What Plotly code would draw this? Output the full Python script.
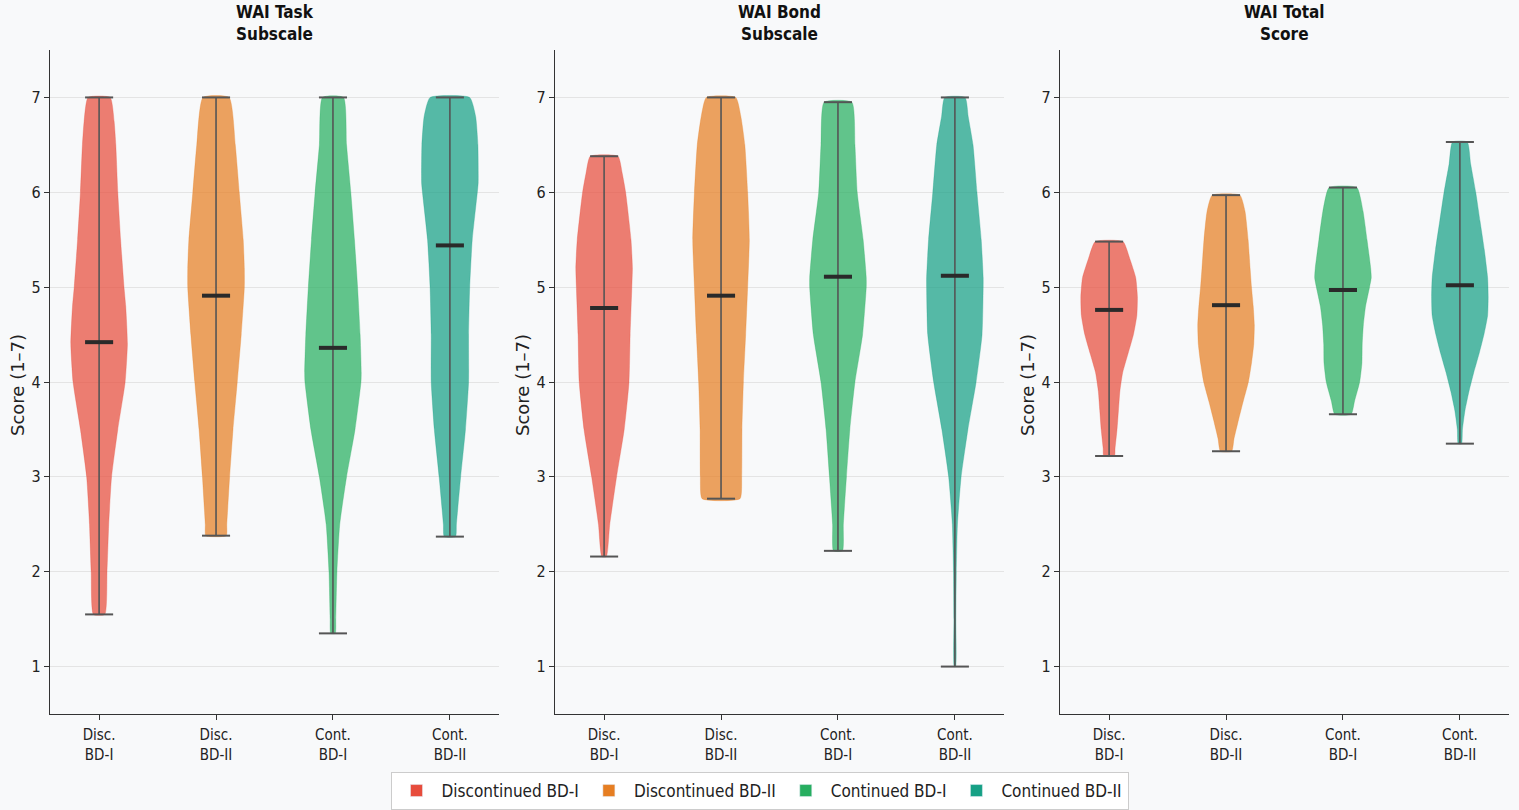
import numpy as np
import plotly.graph_objects as go
from plotly.subplots import make_subplots

# ---------------- data ----------------
GROUPS = ["Discontinued BD-I", "Discontinued BD-II", "Continued BD-I", "Continued BD-II"]
TICK_LABELS = ["Disc.<br>BD-I", "Disc.<br>BD-II", "Cont.<br>BD-I", "Cont.<br>BD-II"]
COLORS = ["#e74c3c", "#e67e22", "#27ae60", "#16a085"]
PANEL_TITLES = ["WAI Task<br>Subscale", "WAI Bond<br>Subscale", "WAI Total<br>Score"]
Y_TICKS = [1, 2, 3, 4, 5, 6, 7]

# density profiles (score level -> relative density, 1 = widest)
TASK_Y = [
    [1.55, 2.0, 2.5, 3.0, 3.5, 4.0, 4.4, 4.8, 5.0, 5.5, 6.0, 6.5, 6.75, 7.0],
    [2.38, 2.5, 3.0, 3.5, 4.0, 4.5, 5.0, 5.2, 5.5, 6.0, 6.5, 7.0],
    [1.35, 1.5, 2.0, 2.5, 3.0, 3.5, 4.0, 4.1, 4.5, 5.0, 5.5, 6.0, 6.5, 7.0],
    [2.37, 2.5, 3.0, 3.5, 4.0, 4.5, 5.0, 5.5, 6.0, 6.1, 6.5, 6.8, 7.0],
]
TASK_DENS = [
    [0.20, 0.28, 0.34, 0.44, 0.66, 0.92, 1.0, 0.94, 0.88, 0.76, 0.66, 0.59, 0.53, 0.39],
    [0.36, 0.38, 0.48, 0.60, 0.75, 0.89, 1.0, 1.0, 0.96, 0.82, 0.68, 0.46],
    [0.08, 0.10, 0.14, 0.24, 0.48, 0.78, 0.99, 1.0, 0.96, 0.87, 0.76, 0.63, 0.48, 0.37],
    [0.20, 0.23, 0.38, 0.55, 0.66, 0.66, 0.70, 0.79, 0.97, 1.0, 0.99, 0.91, 0.70],
]
TASK_MEAN = [4.42, 4.91, 4.36, 5.44]

BOND_Y = [
    [2.16, 2.5, 3.0, 3.5, 4.0, 4.5, 5.0, 5.2, 5.5, 6.0, 6.2, 6.38],
    [2.77, 3.0, 3.5, 4.0, 4.5, 5.0, 5.5, 6.0, 6.5, 6.8, 7.0],
    [2.22, 2.5, 3.0, 3.5, 4.0, 4.5, 5.0, 5.1, 5.5, 6.0, 6.5, 6.95],
    [1.0, 1.5, 2.0, 2.5, 3.0, 3.5, 4.0, 4.5, 5.0, 5.1, 5.5, 6.0, 6.5, 6.8, 7.0],
]
BOND_DENS = [
    [0.08, 0.20, 0.44, 0.71, 0.88, 0.92, 0.98, 1.0, 0.95, 0.76, 0.64, 0.49],
    [0.67, 0.73, 0.74, 0.79, 0.87, 0.94, 1.0, 0.94, 0.84, 0.70, 0.52],
    [0.16, 0.19, 0.30, 0.42, 0.60, 0.87, 1.0, 1.0, 0.89, 0.68, 0.60, 0.49],
    [0.025, 0.035, 0.05, 0.09, 0.22, 0.46, 0.75, 0.96, 1.0, 1.0, 0.93, 0.78, 0.64, 0.47, 0.36],
]
BOND_MEAN = [4.78, 4.91, 5.11, 5.12]

TOTAL_Y = [
    [3.22, 3.3, 3.5, 3.7, 3.9, 4.1, 4.3, 4.5, 4.7, 4.9, 5.1, 5.3, 5.48],
    [3.27, 3.4, 3.6, 3.8, 4.0, 4.2, 4.4, 4.6, 4.8, 5.0, 5.2, 5.5, 5.8, 5.97],
    [3.66, 3.8, 4.0, 4.2, 4.4, 4.6, 4.8, 5.0, 5.1, 5.2, 5.5, 5.8, 6.05],
    [3.35, 3.5, 3.7, 3.9, 4.1, 4.3, 4.5, 4.7, 4.9, 5.1, 5.4, 5.7, 6.0, 6.3, 6.53],
]
TOTAL_DENS = [
    [0.19, 0.21, 0.28, 0.33, 0.38, 0.48, 0.67, 0.86, 0.98, 1.0, 0.94, 0.73, 0.49],
    [0.20, 0.28, 0.44, 0.61, 0.79, 0.90, 0.98, 1.0, 0.96, 0.90, 0.85, 0.78, 0.67, 0.49],
    [0.29, 0.41, 0.59, 0.67, 0.68, 0.72, 0.80, 0.94, 1.0, 0.98, 0.85, 0.71, 0.49],
    [0.06, 0.09, 0.18, 0.32, 0.49, 0.68, 0.85, 0.98, 1.0, 0.98, 0.86, 0.71, 0.56, 0.38, 0.26],
]
TOTAL_MEAN = [4.76, 4.81, 4.97, 5.02]

PANELS = [(TASK_Y, TASK_DENS, TASK_MEAN), (BOND_Y, BOND_DENS, BOND_MEAN), (TOTAL_Y, TOTAL_DENS, TOTAL_MEAN)]

# ---------------- style ----------------
HALF = 0.242   # max half-width of a violin (x units)
CAP = 0.12     # half-length of extrema / mean bars
ALPHA = 0.72
BG = "#f8f9fa"
FONT = "DejaVu Sans Condensed, DejaVu Sans, sans-serif"
FONT_N = "DejaVu Sans, sans-serif"


def rgba(hex_color, a):
    h = hex_color.lstrip("#")
    r, g, b = int(h[0:2], 16), int(h[2:4], 16), int(h[4:6], 16)
    return f"rgba({r},{g},{b},{a})"


fig = make_subplots(rows=1, cols=3)

for p, (ys, ds, means) in enumerate(PANELS):
    for g in range(4):
        pos = g + 1
        y = np.array(ys[g], dtype=float)
        d = np.array(ds[g], dtype=float) * HALF
        xs = np.concatenate([pos + d, (pos - d)[::-1], [pos + d[0]]])
        yy = np.concatenate([y, y[::-1], [y[0]]])
        fig.add_trace(go.Scatter(
            x=xs, y=yy, mode="lines", fill="toself",
            fillcolor=rgba(COLORS[g], ALPHA),
            line=dict(color=rgba(COLORS[g], 0.5), width=0.6, shape="spline", smoothing=0.5),
            hoverinfo="skip", showlegend=False), row=1, col=p + 1)
        lo, hi = y[0], y[-1]
        fig.add_trace(go.Scatter(
            x=[pos, pos], y=[lo, hi], mode="lines",
            line=dict(color="#555555", width=1.6),
            hoverinfo="skip", showlegend=False), row=1, col=p + 1)
        fig.add_trace(go.Scatter(
            x=[pos - CAP, pos + CAP, None, pos - CAP, pos + CAP],
            y=[lo, lo, None, hi, hi], mode="lines",
            line=dict(color="#555555", width=2),
            hoverinfo="skip", showlegend=False), row=1, col=p + 1)
        fig.add_trace(go.Scatter(
            x=[pos - CAP, pos + CAP], y=[means[g], means[g]], mode="lines",
            line=dict(color="#2a2a2a", width=4),
            hoverinfo="skip", showlegend=False), row=1, col=p + 1)

# legend entries
for g in range(4):
    fig.add_trace(go.Bar(x=[None], y=[None], name=GROUPS[g], marker_color=COLORS[g],
                         showlegend=True), row=1, col=1)

W, H = 1519, 810
x_domains = [(50, 499), (555, 1004), (1060, 1509)]
y_dom = [(H - 714) / H, (H - 50) / H]

for i, (x0, x1) in enumerate(x_domains):
    sfx = "" if i == 0 else str(i + 1)
    fig.layout["xaxis" + sfx].update(
        domain=[x0 / W, x1 / W], range=[0.58, 4.42],
        tickmode="array", tickvals=[1, 2, 3, 4], ticktext=TICK_LABELS,
        ticks="outside", ticklen=5, tickwidth=1.2, tickcolor="#333333",
        showline=True, linecolor="#333333", linewidth=1.3,
        showgrid=False, zeroline=False, ticklabelstandoff=2,
        tickfont=dict(family=FONT, size=15, color="#222222"))
    fig.layout["yaxis" + sfx].update(
        domain=y_dom, range=[0.5, 7.5],
        tickmode="array", tickvals=Y_TICKS,
        ticks="outside", ticklen=5, tickwidth=1.2, tickcolor="#333333",
        showline=True, linecolor="#333333", linewidth=1.3,
        showgrid=True, gridcolor="#e4e4e4", gridwidth=1, zeroline=False,
        tickfont=dict(family=FONT, size=16, color="#222222"))
    fig.add_annotation(
        x=(x0 + x1) / 2 / W, y=1 - 23 / H, xref="paper", yref="paper",
        text="<b>" + PANEL_TITLES[i].replace("<br>", "</b><br><b>") + "</b>",
        showarrow=False, xanchor="center", yanchor="middle",
        font=dict(family=FONT, size=17, color="#111111"))
    fig.add_annotation(
        x=(x0 - 33) / W, y=1 - 385 / H, xref="paper", yref="paper",
        text="Score (1–7)", textangle=-90, showarrow=False,
        xanchor="center", yanchor="middle",
        font=dict(family=FONT_N, size=18, color="#222222"))

fig.update_layout(
    width=W, height=H,
    margin=dict(l=0, r=0, t=0, b=0),
    paper_bgcolor=BG, plot_bgcolor=BG,
    showlegend=True,
    legend=dict(orientation="h", x=0.5, xanchor="center", y=1 - 791 / H, yanchor="middle",
                bgcolor="#ffffff", bordercolor="#cccccc", borderwidth=1,
                font=dict(family=FONT, size=17, color="#222222"),
                itemwidth=40, traceorder="normal"),
)

fig.write_html("out.html", config={"displayModeBar": False},
               post_script="document.body.style.margin='0';document.body.style.overflow='hidden';")
